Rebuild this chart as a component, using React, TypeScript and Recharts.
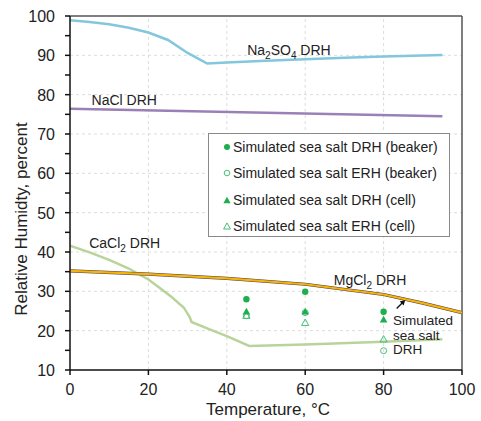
import React from "react";
import {
  ComposedChart,
  Line,
  Scatter,
  XAxis,
  YAxis,
  ReferenceLine,
  ReferenceDot,
} from "recharts";

// Deliquescence curves (temperature °C, RH %)
const na2so4T = [0, 5, 10, 15, 20, 25, 30, 35, 40, 50, 60, 70, 80, 95];
const na2so4V = [98.9, 98.5, 97.9, 97.0, 95.8, 93.9, 90.6, 87.9, 88.2, 88.6, 89.0, 89.4, 89.7, 90.1];

const naclT = [0, 50, 95];
const naclV = [76.4, 75.4, 74.5];

const cacl2T = [0, 5, 10, 15, 20, 23, 26, 29, 30.5, 31, 35, 40, 45.7, 60, 80, 95];
const cacl2V = [41.6, 39.9, 38.0, 35.8, 33.0, 30.8, 28.5, 25.9, 23.5, 22.2, 20.6, 18.6, 16.1, 16.5, 17.2, 17.8];

const mgcl2T = [0, 20, 40, 60, 80, 90, 100];
const mgcl2V = [35.2, 34.4, 33.3, 31.8, 29.2, 27.0, 24.6];

// Simulated sea salt measurements
const seaT = [45, 60, 80];
const drhBeaker = [28.0, 29.9, 24.8];
const erhBeaker = [23.8, 24.6, 14.9];
const drhCell = [24.8, 24.8, 22.8];
const erhCell = [23.8, 22.0, 17.8];

const xTicks = [0, 20, 40, 60, 80, 100];
const yTicks = [10, 15, 20, 25, 30, 35, 40, 45, 50, 55, 60, 65, 70, 75, 80, 85, 90, 95, 100];
const yGrid = [20, 30, 40, 50, 60, 70, 80, 90];
const xGrid = [20, 40, 60, 80];

const legendLabels = [
  "Simulated sea salt DRH (beaker)",
  "Simulated sea salt ERH (beaker)",
  "Simulated sea salt DRH (cell)",
  "Simulated sea salt ERH (cell)",
];

const zip = (t: number[], v: number[]) => t.map((x, i) => ({ t: x, v: v[i] }));

const FONT = "'Liberation Sans', Arial, sans-serif";
const GREEN = "#1fae4e";
const GREEN_OPEN = "#47c07a";

const FilledCircle = (p: any) => <circle cx={p.cx} cy={p.cy} r={3.2} fill={GREEN} />;
const OpenCircle = (p: any) => (
  <circle cx={p.cx} cy={p.cy} r={3} fill="none" stroke={GREEN_OPEN} strokeWidth={1} />
);
const tri = (cx: number, cy: number, s: number) =>
  `${cx},${cy - s} ${cx - s * 0.95},${cy + s * 0.7} ${cx + s * 0.95},${cy + s * 0.7}`;
const FilledTri = (p: any) => <polygon points={tri(p.cx, p.cy, 4)} fill={GREEN} />;
const OpenTri = (p: any) => (
  <polygon points={tri(p.cx, p.cy, 3.8)} fill="none" stroke={GREEN_OPEN} strokeWidth={1} />
);

// parts: alternating normal / subscript strings, starting with normal
const chem = (parts: string[]) =>
  parts.map((s, i) =>
    i % 2 === 1 ? (
      <tspan key={i} dy={4} fontSize={10}>
        {s}
      </tspan>
    ) : i === 0 ? (
      <tspan key={i}>{s}</tspan>
    ) : (
      <tspan key={i} dy={-4}>
        {s}
      </tspan>
    )
  );

const textLabel = (parts: React.ReactNode, size = 14) => (p: any) => {
  const vb = p.viewBox || {};
  return (
    <text x={vb.x} y={vb.y} fontFamily={FONT} fontSize={size} fill="#222">
      {parts}
    </text>
  );
};

const XTick = (p: any) => (
  <text x={p.x} y={p.y + 18} textAnchor="middle" fontFamily={FONT} fontSize={16} fill="#222">
    {p.payload.value}
  </text>
);

const YTick = (p: any) =>
  p.payload.value % 10 === 0 ? (
    <text x={p.x - 8} y={p.y + 6} textAnchor="end" fontFamily={FONT} fontSize={16} fill="#222">
      {p.payload.value}
    </text>
  ) : (
    <g />
  );

const ArrowLabel = (p: any) => {
  const vb = p.viewBox || {};
  const x = vb.x;
  const y = vb.y;
  return (
    <g>
      <line x1={x - 8.5} y1={y + 8.5} x2={x - 2} y2={y + 2} stroke="#111" strokeWidth={1.3} />
      <polygon points={`${x},${y} ${x - 5.5},${y + 1.5} ${x - 1.5},${y + 5.5}`} fill="#111" />
    </g>
  );
};

const legendMarkers = [
  <circle cx={5} cy={5} r={3} fill={GREEN} />,
  <circle cx={5} cy={5} r={2.8} fill="none" stroke={GREEN_OPEN} strokeWidth={1} />,
  <polygon points={tri(5, 5.5, 3.8)} fill={GREEN} />,
  <polygon points={tri(5, 5.5, 3.6)} fill="none" stroke={GREEN_OPEN} strokeWidth={1} />,
];

export default function App() {
  return (
    <div style={{ position: "absolute", left: 0, top: 0, width: 481, height: 421, background: "#fff" }}>
      <ComposedChart
        width={481}
        height={421}
        margin={{ top: 16, right: 19, bottom: 0, left: 0 }}
      >
        <XAxis
          dataKey="t"
          type="number"
          domain={[0, 100]}
          ticks={xTicks}
          tick={<XTick />}
          tickSize={5}
          height={51}
          stroke="#111"
          strokeWidth={1.5}
          allowDataOverflow
          label={{
            content: () => (
              <text x={268} y={415} textAnchor="middle" fontFamily={FONT} fontSize={17} fill="#222">
                Temperature, °C
              </text>
            ),
          }}
        />
        <YAxis
          dataKey="v"
          type="number"
          domain={[10, 100]}
          ticks={yTicks}
          tick={<YTick />}
          tickSize={5}
          width={70}
          interval={0}
          stroke="#111"
          strokeWidth={1.5}
          allowDataOverflow
          label={{
            content: () => (
              <text
                x={27}
                y={219}
                transform="rotate(-90 27 219)"
                textAnchor="middle"
                fontFamily={FONT}
                fontSize={17}
                fill="#222"
              >
                Relative Humidty, percent
              </text>
            ),
          }}
        />
        {yGrid.map((g) => (
          <ReferenceLine key={"gy" + g} y={g} stroke="#dcdcdc" strokeDasharray="3 3" />
        ))}
        {xGrid.map((g) => (
          <ReferenceLine key={"gx" + g} x={g} stroke="#dcdcdc" strokeDasharray="3 3" />
        ))}
        <ReferenceLine y={100} stroke="#555" strokeWidth={1.5} />
        <ReferenceLine x={100} stroke="#555" strokeWidth={1.5} />

        <Line
          data={zip(na2so4T, na2so4V)}
          dataKey="v"
          type="linear"
          stroke="#82c7dc"
          strokeWidth={2.5}
          dot={false}
          isAnimationActive={false}
        />
        <Line
          data={zip(naclT, naclV)}
          dataKey="v"
          type="linear"
          stroke="#9a80b6"
          strokeWidth={2.5}
          dot={false}
          isAnimationActive={false}
        />
        <Line
          data={zip(cacl2T, cacl2V)}
          dataKey="v"
          type="linear"
          stroke="#b8d49a"
          strokeWidth={2.5}
          dot={false}
          isAnimationActive={false}
        />
        <Line
          data={zip(mgcl2T, mgcl2V)}
          dataKey="v"
          type="linear"
          stroke="#4d3a5e"
          strokeWidth={3.2}
          dot={false}
          isAnimationActive={false}
        />
        <Line
          data={zip(mgcl2T, mgcl2V)}
          dataKey="v"
          type="linear"
          stroke="#f6b500"
          strokeWidth={2.2}
          dot={false}
          isAnimationActive={false}
        />

        <Scatter data={zip(seaT, erhBeaker)} dataKey="v" shape={<OpenCircle />} isAnimationActive={false} />
        <Scatter data={zip(seaT, erhCell)} dataKey="v" shape={<OpenTri />} isAnimationActive={false} />
        <Scatter data={zip(seaT, drhCell)} dataKey="v" shape={<FilledTri />} isAnimationActive={false} />
        <Scatter data={zip(seaT, drhBeaker)} dataKey="v" shape={<FilledCircle />} isAnimationActive={false} />

        <ReferenceDot
          x={45.2}
          y={90.1}
          r={0}
          fill="none"
          stroke="none"
          label={{ content: textLabel(chem(["Na", "2", "SO", "4", " DRH"])) }}
        />
        <ReferenceDot x={5.5} y={77.4} r={0} fill="none" stroke="none" label={{ content: textLabel("NaCl DRH") }} />
        <ReferenceDot
          x={4.9}
          y={41.0}
          r={0}
          fill="none"
          stroke="none"
          label={{ content: textLabel(chem(["CaCl", "2", " DRH"])) }}
        />
        <ReferenceDot
          x={67.3}
          y={31.6}
          r={0}
          fill="none"
          stroke="none"
          label={{ content: textLabel(chem(["MgCl", "2", " DRH"])) }}
        />
        <ReferenceDot x={82.4} y={21.4} r={0} fill="none" stroke="none" label={{ content: textLabel("Simulated", 13.5) }} />
        <ReferenceDot x={82.4} y={17.6} r={0} fill="none" stroke="none" label={{ content: textLabel("sea salt", 13.5) }} />
        <ReferenceDot x={82.4} y={14.0} r={0} fill="none" stroke="none" label={{ content: textLabel("DRH", 13.5) }} />
        <ReferenceDot x={85.5} y={27.8} r={0} fill="none" stroke="none" label={{ content: ArrowLabel }} />
      </ComposedChart>
      <div
        style={{
          position: "absolute",
          left: 208,
          top: 133,
          width: 242,
          height: 104,
          border: "1px solid #8a8a8a",
          background: "#fff",
          boxSizing: "border-box",
          fontFamily: FONT,
          fontSize: 14,
          color: "#222",
          paddingTop: 0,
        }}
      >
        {legendLabels.map((l, i) => (
          <div key={l} style={{ display: "flex", alignItems: "center", height: 26.3, paddingLeft: 12.5 }}>
            <svg width={10} height={10} style={{ marginRight: 1.5 }}>
              {legendMarkers[i]}
            </svg>
            <span>{l}</span>
          </div>
        ))}
      </div>
    </div>
  );
}
